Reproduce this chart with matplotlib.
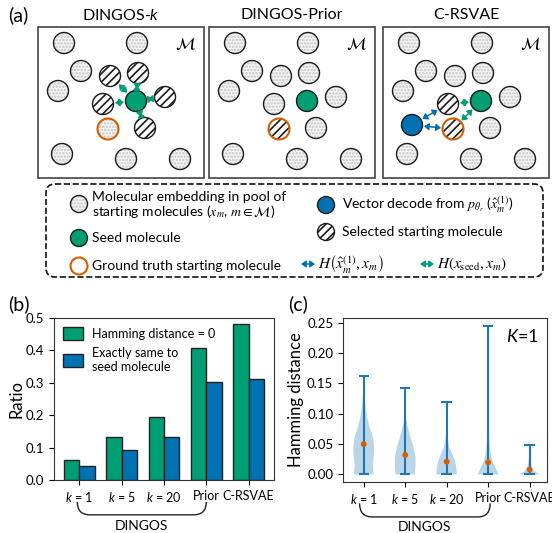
import matplotlib
matplotlib.use("Agg")
import matplotlib.pyplot as plt
import numpy as np
from matplotlib.patches import Circle, FancyArrowPatch, FancyBboxPatch, Rectangle, PathPatch
from matplotlib.path import Path
from matplotlib.transforms import blended_transform_factory

plt.rcParams['font.family'] = ['Lato', 'DejaVu Sans']
plt.rcParams['mathtext.fontset'] = 'custom'
plt.rcParams['mathtext.rm'] = 'Lato'
plt.rcParams['mathtext.it'] = 'Lato:italic'
plt.rcParams['mathtext.bf'] = 'Lato:bold'
plt.rcParams['hatch.linewidth'] = 1.2
plt.rcParams['axes.edgecolor'] = '#333333'

GREEN = "#009E73"
BLUE = "#0072B2"
ORANGE = "#D55E00"
VIOLIN = "#1f77b4"

# ---- (b) ratio data
methods = ["$k$ = 1", "$k$ = 5", "$k$ = 20", "Prior", "C-RSVAE"]
ratio_hd0 = [0.063, 0.133, 0.195, 0.408, 0.480]
ratio_same = [0.044, 0.094, 0.134, 0.302, 0.313]

# ---- (c) hamming distance, violin outlines
hd_min = [0.0, 0.0, 0.0, 0.0, 0.0]
hd_max = [0.162, 0.143, 0.119, 0.245, 0.048]
hd_mean = [0.050, 0.032, 0.021, 0.020, 0.008]
prof_y = [
    [0.0, 0.008, 0.015, 0.025, 0.035, 0.045, 0.055, 0.062, 0.078, 0.095, 0.11, 0.128, 0.136],
    [0.0, 0.015, 0.029, 0.045, 0.062, 0.073, 0.084, 0.092, 0.10],
    [0.0, 0.012, 0.023, 0.034, 0.045, 0.056, 0.067, 0.08],
    [0.0, 0.01, 0.018, 0.029, 0.04, 0.056, 0.078, 0.095, 0.12],
    [0.0, 0.004, 0.008, 0.015, 0.026, 0.037, 0.045],
]
prof_w = [
    [30, 29, 28, 30, 32, 32, 30, 28, 18, 10, 6, 3, 1],
    [28, 30, 30, 24, 15, 10, 5, 2, 0.5],
    [30, 28, 24, 16, 8, 4, 1.5, 0.5],
    [32, 24, 16, 10, 6, 4, 2, 1, 0.5],
    [30, 18, 10, 5, 2.5, 1, 0.3],
]

# ---- (a) schematic layout (pixels inside a panel)
mol_pos = [(64, 43), (137, 43), (81, 71), (110, 76), (138, 73), (58, 91), (165, 97),
           (136, 101), (103, 104), (108, 129), (145, 128), (62, 154), (126, 159), (180, 159)]
panel_kinds = [
    ["dot", "dot", "dot", "hatch", "hatch", "dot", "hatch",
     "green", "hatch", "dot_o", "hatch", "dot", "dot", "dot"],
    ["dot", "dot", "dot", "dot", "dot", "dot", "dot",
     "green", "dot", "hatch_o", "dot", "dot", "dot", "dot"],
    ["dot", "dot", "dot", "dot", "dot", "dot", "dot",
     "green", "hatch", "hatch_o", "dot", "dot", "dot", "dot"],
]
blue_pos = (67, 125)
panel_titles = ["DINGOS-$k$", "DINGOS-Prior", "C-RSVAE"]
panel_x0 = [38, 209, 383]
R = 10.5
ARROW = "<|-|>,head_length=0.35,head_width=0.25"


def mol(ax, x, y, kind, r=R):
    edge = ORANGE if kind.endswith("_o") else "#1a1a1a"
    lw = 1.5 if kind.endswith("_o") else 1.0
    base = kind.replace("_o", "")
    if base == "dot":
        ax.add_patch(Circle((x, y), r, fc="#f6f6f6", ec="#c4c4c4", lw=0, hatch="....."))
    elif base == "hatch":
        ax.add_patch(Circle((x, y), r, fc="white", ec="#1a1a1a", lw=0, hatch="////"))
    elif base == "green":
        ax.add_patch(Circle((x, y), r, fc=GREEN, lw=0))
    elif base == "blue":
        ax.add_patch(Circle((x, y), r, fc=BLUE, lw=0))
    elif base == "white":
        ax.add_patch(Circle((x, y), r, fc="white", lw=0))
    ax.add_patch(Circle((x, y), r, fc="none", ec=edge, lw=lw))


def arrow(ax, a, b, color):
    ax.add_patch(FancyArrowPatch(tuple(a), tuple(b), arrowstyle=ARROW, mutation_scale=8,
                                 color=color, lw=1.1, shrinkA=0, shrinkB=0))


def link(ax, p, q, color, r=R):
    p = np.array(p, float)
    q = np.array(q, float)
    u = (q - p) / np.hypot(*(q - p))
    arrow(ax, p + u * (r + 1.5), q - u * (r + 1.5), color)


def brace(ax, x0, x1, y_end, y_line, y_text, dx=0.3):
    tr = blended_transform_factory(ax.transData, ax.transAxes)
    verts = [(x0, y_end), (x0, y_line), (x0 + dx, y_line), (x1 - dx, y_line),
             (x1, y_line), (x1, y_end)]
    codes = [Path.MOVETO, Path.CURVE3, Path.CURVE3, Path.LINETO, Path.CURVE3, Path.CURVE3]
    ax.add_patch(PathPatch(Path(verts, codes), fc="none", ec="#222222", lw=1.0,
                           transform=tr, clip_on=False))
    ax.text((x0 + x1) / 2, y_text, "DINGOS", transform=tr, ha="center", va="center", fontsize=10)


fig = plt.figure(figsize=(5.52, 5.33), dpi=100)

# overlay in pixel coordinates for the schematic
ov = fig.add_axes([0, 0, 1, 1])
ov.set_xlim(0, 552)
ov.set_ylim(533, 0)
ov.axis("off")

ov.text(8, 15, "(a)", fontsize=14, va="center")
ov.text(8, 304, "(b)", fontsize=14, va="center")
ov.text(288, 304, "(c)", fontsize=14, va="center")

for i, x0 in enumerate(panel_x0):
    ov.add_patch(Rectangle((x0, 27), 166, 151, fc="white", ec="#444444", lw=1.2))
    ov.text(x0 + 83, 15, panel_titles[i], ha="center", va="center", fontsize=11.5)
    ov.text(x0 + 147, 43, r"$\mathcal{M}$", ha="center", va="center", fontsize=12,
            math_fontfamily="stix")
    off = x0 - panel_x0[0]
    for (px, py), kind in zip(mol_pos, panel_kinds[i]):
        mol(ov, px + off, py, kind)
    seed = (mol_pos[7][0] + off, mol_pos[7][1])
    if i == 0:
        for (px, py), kind in zip(mol_pos, panel_kinds[i]):
            if kind == "hatch":
                link(ov, seed, (px + off, py), GREEN)
    if i == 2:
        bp = (blue_pos[0] + off, blue_pos[1])
        mol(ov, bp[0], bp[1], "blue")
        for j in (8, 9):
            tgt = (mol_pos[j][0] + off, mol_pos[j][1])
            link(ov, bp, tgt, BLUE)
            link(ov, seed, tgt, GREEN)

# legend box
ov.add_patch(FancyBboxPatch((46, 184), 497, 93, boxstyle="round,pad=0,rounding_size=9",
                            fc="none", ec="#111111", ls="--", lw=1.2))
fs = 10
lr = 8.5
mol(ov, 79, 204, "dot", r=lr)
ov.text(92, 197, "Molecular embedding in pool of", fontsize=fs, va="center")
ov.text(92, 211, r"starting molecules ($x_m$, $m \in \mathcal{M}$)", fontsize=fs, va="center",
        math_fontfamily="stix")
mol(ov, 79, 238, "green", r=lr)
ov.text(92, 238, "Seed molecule", fontsize=fs, va="center")
mol(ov, 79, 266, "white_o", r=lr)
ov.text(92, 266, "Ground truth starting molecule", fontsize=fs, va="center")
mol(ov, 326, 205, "blue", r=lr)
ov.text(342, 205, r"Vector decode from $p_{\theta_r}$ ($\hat{x}_m^{(1)}$)", fontsize=fs,
        va="center", math_fontfamily="stix")
mol(ov, 326, 232, "hatch", r=lr)
ov.text(342, 232, "Selected starting molecule", fontsize=fs, va="center")
arrow(ov, (301, 264), (315, 264), BLUE)
ov.text(318, 264, r"$H\left(\hat{x}_m^{(1)}, x_m\right)$", fontsize=fs + 1, va="center",
        math_fontfamily="stix")
arrow(ov, (420, 264), (434, 264), GREEN)
ov.text(437, 264, r"$H(x_{\mathrm{seed}}, x_m)$", fontsize=fs + 1, va="center",
        math_fontfamily="stix")

# ---- (b) bar chart
axb = fig.add_axes([54 / 552, 53 / 533, 220 / 552, 162 / 533])
x = np.arange(len(methods))
w = 0.36
axb.bar(x - w / 2, ratio_hd0, w, color=GREEN, edgecolor="#222222", lw=1.0,
        label="Hamming distance = 0")
axb.bar(x + w / 2, ratio_same, w, color=BLUE, edgecolor="#222222", lw=1.0,
        label="Exactly same to\nseed molecule")
axb.set_xlim(-0.6, 4.6)
axb.set_ylim(0, 0.5)
axb.set_xticks(x)
axb.set_xticklabels(methods, fontsize=9)
yt = np.arange(0, 0.51, 0.1)
axb.set_yticks(yt)
axb.set_yticklabels([f"{v:.1f}" for v in yt], fontsize=9.5)
axb.set_ylabel("Ratio", fontsize=12, labelpad=1)
axb.legend(loc="upper left", frameon=False, fontsize=9, handlelength=1.6, handleheight=1.3,
           handletextpad=0.7, labelspacing=0.5, borderaxespad=0.3)
brace(axb, -0.05, 3.0, -0.135, -0.215, -0.285)

# ---- (c) violin plot
axc = fig.add_axes([343 / 552, 51 / 533, 204 / 552, 164 / 533])
pos = np.arange(1, len(methods) + 1)
stats = []
for i in range(len(methods)):
    stats.append({"coords": np.array(prof_y[i]), "vals": np.array(prof_w[i], float),
                  "mean": hd_mean[i], "median": hd_mean[i], "min": hd_min[i], "max": hd_max[i]})
parts = axc.violin(stats, positions=pos, widths=0.5, showextrema=True)
for b in parts["bodies"]:
    b.set_facecolor(VIOLIN)
    b.set_edgecolor("none")
    b.set_alpha(0.3)
for key in ("cbars", "cmins", "cmaxes"):
    parts[key].set_color(VIOLIN)
    parts[key].set_linewidth(1.5)
axc.scatter(pos, hd_mean, s=18, color=ORANGE, zorder=3, edgecolors="none")
axc.set_xlim(0.5, 5.42)
axc.set_ylim(-0.0125, 0.258)
axc.set_xticks(pos)
axc.set_xticklabels(methods, fontsize=9)
ytc = np.arange(0, 0.26, 0.05)
axc.set_yticks(ytc)
axc.set_yticklabels([f"{v:.2f}" for v in ytc], fontsize=9.5)
axc.set_ylabel("Hamming distance", fontsize=12, labelpad=2)
axc.text(0.96, 0.94, "$K$=1", transform=axc.transAxes, ha="right", va="top", fontsize=13)
brace(axc, 0.9, 4.05, -0.13, -0.213, -0.275)

fig.savefig("out.png", dpi=100)
